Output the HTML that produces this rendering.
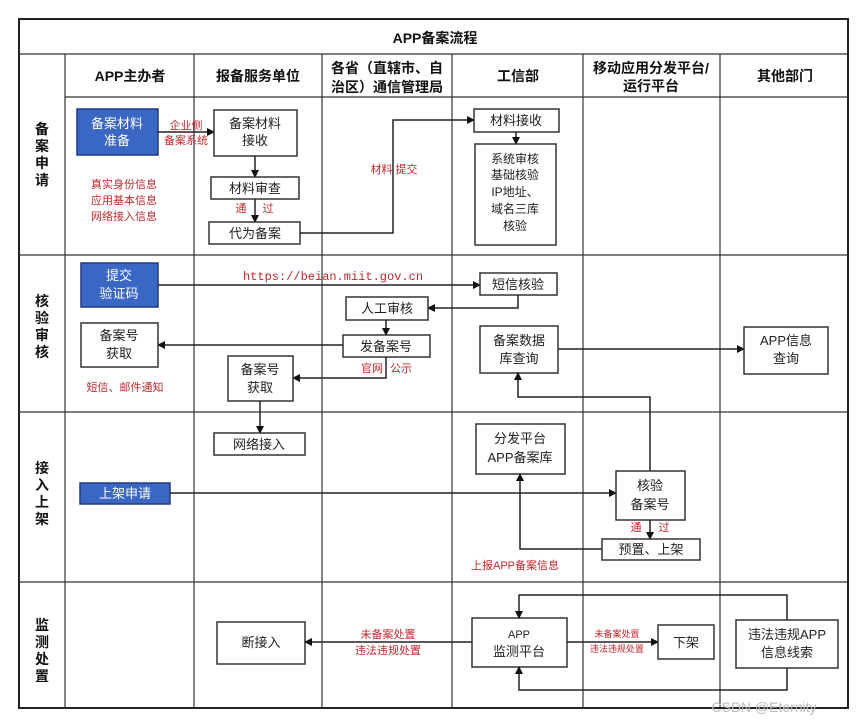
<!DOCTYPE html>
<html><head><meta charset="utf-8"><style>
body{margin:0;background:#fff}
svg{display:block;font-family:"Liberation Sans","Noto Sans CJK SC",sans-serif}
.b{fill:#fff;stroke:#333;stroke-width:1.5}
.bl{fill:#3a66c4;stroke:#223a80;stroke-width:1.5}
.l{stroke:#222;stroke-width:1.5;fill:none}
.g{stroke:#333;stroke-width:1.2;fill:none}
.t{font-size:13px;fill:#222;text-anchor:middle}
.w{font-size:13px;fill:#fff;text-anchor:middle}
.r{font-size:11px;fill:#c0282e;text-anchor:middle}
.h{font-size:14px;font-weight:bold;fill:#111;text-anchor:middle}
</style></head><body>
<svg width="865" height="726" viewBox="0 0 865 726">
<defs><marker id="a" markerWidth="8" markerHeight="8" refX="7" refY="4" orient="auto" markerUnits="userSpaceOnUse"><path d="M0,0 L8,4 L0,8z" fill="#111"/></marker></defs>
<!-- grid -->
<rect x="19" y="19" width="829" height="689" fill="none" stroke="#222" stroke-width="2"/>
<line class="g" x1="19" y1="54" x2="848" y2="54"/>
<line class="g" x1="65" y1="97" x2="848" y2="97"/>
<line class="g" x1="19" y1="255" x2="848" y2="255"/>
<line class="g" x1="19" y1="412" x2="848" y2="412"/>
<line class="g" x1="19" y1="582" x2="848" y2="582"/>
<line class="g" x1="65" y1="54" x2="65" y2="708"/>
<line class="g" x1="194" y1="54" x2="194" y2="708"/>
<line class="g" x1="322" y1="54" x2="322" y2="708"/>
<line class="g" x1="452" y1="54" x2="452" y2="708"/>
<line class="g" x1="583" y1="54" x2="583" y2="708"/>
<line class="g" x1="720" y1="54" x2="720" y2="708"/>
<text x="435" y="43" class="h">APP备案流程</text>
<text x="130" y="81" class="h">APP主办者</text>
<text x="258" y="81" class="h">报备服务单位</text>
<text x="387" y="73" class="h">各省（直辖市、自</text>
<text x="387" y="92" class="h">治区）通信管理局</text>
<text x="518" y="81" class="h">工信部</text>
<text x="651" y="73" class="h">移动应用分发平台/</text>
<text x="651" y="91" class="h">运行平台</text>
<text x="785" y="81" class="h">其他部门</text>
<g class="h"><text x="42" y="134">备</text><text x="42" y="151">案</text><text x="42" y="168">申</text><text x="42" y="185">请</text>
<text x="42" y="306">核</text><text x="42" y="323">验</text><text x="42" y="340">审</text><text x="42" y="357">核</text>
<text x="42" y="473">接</text><text x="42" y="490">入</text><text x="42" y="507">上</text><text x="42" y="524">架</text>
<text x="42" y="630">监</text><text x="42" y="647">测</text><text x="42" y="664">处</text><text x="42" y="681">置</text></g>
<!-- lane1 -->
<rect class="bl" x="77" y="109" width="81" height="46"/>
<text class="w" x="117" y="128">备案材料</text><text class="w" x="117" y="145">准备</text>
<line class="l" x1="158" y1="132" x2="214" y2="132" marker-end="url(#a)"/>
<text class="r" x="186" y="129">企业侧</text><text class="r" x="186" y="144">备案系统</text>
<rect class="b" x="214" y="110" width="83" height="46"/>
<text class="t" x="255" y="128">备案材料</text><text class="t" x="255" y="145">接收</text>
<line class="l" x1="255" y1="156" x2="255" y2="177" marker-end="url(#a)"/>
<rect class="b" x="211" y="177" width="88" height="22"/><text class="t" x="255" y="193">材料审查</text>
<line class="l" x1="255" y1="199" x2="255" y2="222" marker-end="url(#a)"/>
<text class="r" x="241" y="212">通</text><text class="r" x="268" y="212">过</text>
<rect class="b" x="209" y="222" width="91" height="22"/><text class="t" x="255" y="238">代为备案</text>
<polyline class="l" points="300,233 393,233 393,120 474,120" marker-end="url(#a)"/>
<text class="r" x="394" y="173">材料 提交</text>
<text class="r" x="124" y="188">真实身份信息</text><text class="r" x="124" y="204">应用基本信息</text><text class="r" x="124" y="220">网络接入信息</text>
<rect class="b" x="474" y="109" width="85" height="23"/><text class="t" x="516" y="125">材料接收</text>
<line class="l" x1="516" y1="132" x2="516" y2="144" marker-end="url(#a)"/>
<rect class="b" x="475" y="144" width="81" height="101"/>
<text class="t" x="515" y="163" style="font-size:12px">系统审核</text><text class="t" x="515" y="179" style="font-size:12px">基础核验</text><text class="t" x="515" y="196" style="font-size:12px">IP地址、</text><text class="t" x="515" y="213" style="font-size:12px">域名三库</text><text class="t" x="515" y="230" style="font-size:12px">核验</text>
<!-- lane2 -->
<rect class="bl" x="81" y="263" width="77" height="44"/>
<text class="w" x="119" y="280">提交</text><text class="w" x="119" y="298">验证码</text>
<line class="l" x1="158" y1="285" x2="480" y2="285" marker-end="url(#a)"/>
<text x="333" y="280" style="font-family:'Liberation Mono',monospace;font-size:12px;fill:#c0282e;text-anchor:middle">https://beian.miit.gov.cn</text>
<rect class="b" x="480" y="273" width="77" height="22"/><text class="t" x="518" y="289">短信核验</text>
<polyline class="l" points="518,295 518,308 428,308" marker-end="url(#a)"/>
<rect class="b" x="346" y="297" width="82" height="23"/><text class="t" x="387" y="313">人工审核</text>
<line class="l" x1="386" y1="320" x2="386" y2="335" marker-end="url(#a)"/>
<rect class="b" x="343" y="335" width="87" height="22"/><text class="t" x="386" y="351">发备案号</text>
<line class="l" x1="343" y1="345" x2="158" y2="345" marker-end="url(#a)"/>
<rect class="b" x="81" y="323" width="77" height="44"/>
<text class="t" x="119" y="340">备案号</text><text class="t" x="119" y="358">获取</text>
<text class="r" x="125" y="391">短信、邮件通知</text>
<polyline class="l" points="386,357 386,378 293,378" marker-end="url(#a)"/>
<text class="r" x="372" y="372">官网</text><text class="r" x="401" y="372">公示</text>
<rect class="b" x="228" y="356" width="65" height="45"/>
<text class="t" x="260" y="374">备案号</text><text class="t" x="260" y="392">获取</text>
<line class="l" x1="260" y1="401" x2="260" y2="433" marker-end="url(#a)"/>
<rect class="b" x="214" y="433" width="91" height="22"/><text class="t" x="259" y="449">网络接入</text>
<rect class="b" x="480" y="326" width="78" height="47"/>
<text class="t" x="519" y="345">备案数据</text><text class="t" x="519" y="363">库查询</text>
<line class="l" x1="558" y1="349" x2="744" y2="349" marker-end="url(#a)"/>
<rect class="b" x="744" y="327" width="84" height="47"/>
<text class="t" x="786" y="345">APP信息</text><text class="t" x="786" y="363">查询</text>
<polyline class="l" points="650,471 650,397 518,397 518,373" marker-start="url(#a)" marker-end="url(#a)"/>
<!-- lane3 -->
<rect class="b" x="476" y="424" width="89" height="50"/>
<text class="t" x="520" y="443">分发平台</text><text class="t" x="520" y="462">APP备案库</text>
<rect class="bl" x="80" y="483" width="90" height="21"/><text class="w" x="125" y="498">上架申请</text>
<line class="l" x1="170" y1="493" x2="616" y2="493" marker-end="url(#a)"/>
<rect class="b" x="616" y="471" width="69" height="49"/>
<text class="t" x="650" y="490">核验</text><text class="t" x="650" y="509">备案号</text>
<line class="l" x1="650" y1="520" x2="650" y2="539" marker-end="url(#a)"/>
<text class="r" x="636" y="531">通</text><text class="r" x="664" y="531">过</text>
<rect class="b" x="602" y="539" width="98" height="21"/><text class="t" x="651" y="554">预置、上架</text>
<polyline class="l" points="602,549 520,549 520,474" marker-end="url(#a)"/>
<text class="r" x="515" y="569">上报APP备案信息</text>
<!-- lane4 -->
<rect class="b" x="217" y="622" width="88" height="42"/><text class="t" x="261" y="647">断接入</text>
<line class="l" x1="472" y1="642" x2="305" y2="642" marker-end="url(#a)"/>
<text class="r" x="388" y="638">未备案处置</text><text class="r" x="388" y="654">违法违规处置</text>
<rect class="b" x="472" y="618" width="95" height="49"/>
<text class="t" x="519" y="638" style="font-size:11px">APP</text><text class="t" x="519" y="656">监测平台</text>
<line class="l" x1="567" y1="642" x2="658" y2="642" marker-end="url(#a)"/>
<text class="r" x="617" y="637" style="font-size:9px">未备案处置</text><text class="r" x="617" y="652" style="font-size:9px">违法违规处置</text>
<rect class="b" x="658" y="625" width="56" height="34"/><text class="t" x="686" y="647">下架</text>
<rect class="b" x="736" y="620" width="102" height="48"/>
<text class="t" x="787" y="639">违法违规APP</text><text class="t" x="787" y="657">信息线索</text>
<polyline class="l" points="787,620 787,595 519,595 519,618" marker-end="url(#a)"/>
<polyline class="l" points="787,668 787,690 519,690 519,667" marker-end="url(#a)"/>
<text x="764" y="712" style="font-size:14px;fill:#bbb;text-anchor:middle">CSDN @Eternity</text>
</svg>
</body></html>
